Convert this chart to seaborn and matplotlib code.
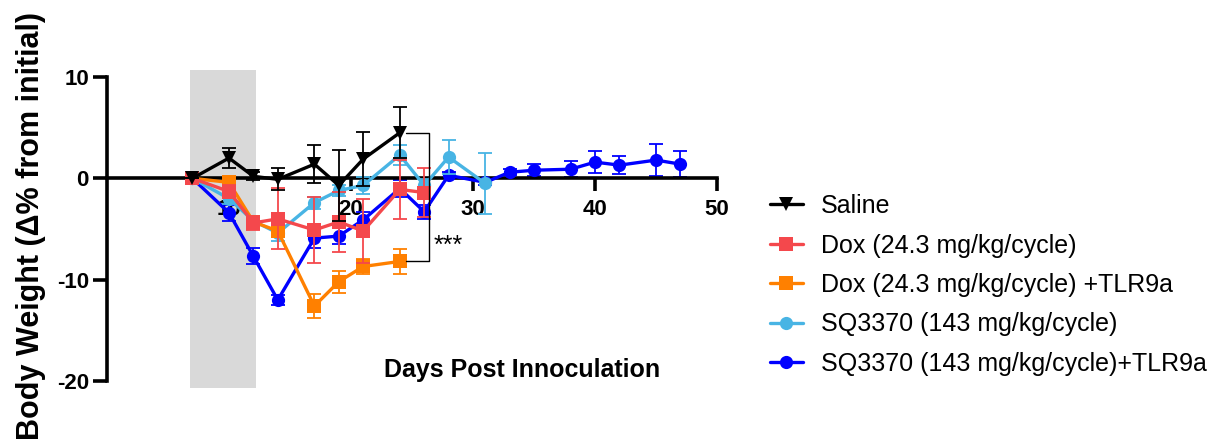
import numpy as np
import pandas as pd
import seaborn as sns
import matplotlib.pyplot as plt
from matplotlib.patches import Rectangle

sns.set_style("ticks")
plt.rcParams['font.family'] = ['Liberation Sans', 'DejaVu Sans']
plt.rcParams['axes.unicode_minus'] = False
for key in ["text.color", "axes.labelcolor", "xtick.color", "ytick.color", "axes.edgecolor"]:
    plt.rcParams[key] = "black"

# group names (legend order)
groups = ["Saline",
          "Dox (24.3 mg/kg/cycle)",
          "Dox (24.3 mg/kg/cycle) +TLR9a",
          "SQ3370 (143 mg/kg/cycle)",
          "SQ3370 (143 mg/kg/cycle)+TLR9a"]

saline_days = [7, 10, 12, 14, 17, 19, 21, 24]
saline_mean = [0, 2.0, 0.2, -0.1, 1.4, -0.7, 1.9, 4.5]
saline_err = [0, 1.0, 0.4, 1.1, 1.9, 3.5, 2.7, 2.5]

dox_days = [7, 10, 12, 14, 17, 19, 21, 24, 26]
dox_mean = [0, -1.3, -4.4, -4.0, -5.1, -4.3, -5.2, -1.1, -1.4]
dox_err = [0, 0.6, 0.7, 3.0, 3.3, 3.0, 3.2, 2.9, 2.4]

doxtlr_days = [7, 10, 12, 14, 17, 19, 21, 24]
doxtlr_mean = [0, -0.4, -4.3, -5.2, -12.6, -10.2, -8.7, -8.2]
doxtlr_err = [0, 0.4, 0.6, 0.5, 1.2, 1.1, 0.7, 1.2]

sq_days = [7, 10, 12, 14, 17, 19, 21, 24, 26, 28, 31]
sq_mean = [0, -2.0, -4.2, -5.4, -2.4, -1.2, -0.7, 2.3, -0.7, 2.1, -0.5]
sq_err = [0, 0.5, 0.5, 0.8, 0.6, 0.5, 0.8, 1.0, 0.6, 1.7, 3.0]

sqtlr_days = [7, 10, 12, 14, 17, 19, 21, 24, 26, 28, 31, 33, 35, 38, 40, 42, 45, 47]
sqtlr_mean = [0, -3.4, -7.7, -12.0, -5.9, -5.7, -4.1, -1.0, -3.3, 0.3, -0.4, 0.6,
              0.8, 0.9, 1.6, 1.3, 1.8, 1.4]
sqtlr_err = [0, 0.8, 0.8, 0.5, 1.0, 0.8, 0.8, 0.8, 0.7, 0.3, 0.3, 0.3, 0.6, 0.8,
             1.1, 0.9, 1.6, 1.3]

colors = ["#000000", "#F4484C", "#FF8000", "#48B4E4", "#0000FF"]
markers = ["v", "s", "s", "o", "o"]

all_days = [saline_days, dox_days, doxtlr_days, sq_days, sqtlr_days]
all_mean = [saline_mean, dox_mean, doxtlr_mean, sq_mean, sqtlr_mean]
all_err = [saline_err, dox_err, doxtlr_err, sq_err, sqtlr_err]

frames = []
for g, d, m, e in zip(groups, all_days, all_mean, all_err):
    frames.append(pd.DataFrame({"day": d, "weight": m, "err": e, "group": g}))
df = pd.concat(frames, ignore_index=True)

fig = plt.figure(figsize=(12.15, 4.48), dpi=100)
ax = fig.add_axes([107 / 1215, 1 - 381 / 448, 610 / 1215, 304 / 448])

# dosing window
ax.add_patch(Rectangle((6.8, -20.7), 5.4, 31.4, color="#D9D9D9", lw=0,
                       clip_on=False, zorder=0))

pal = dict(zip(groups, colors))
mk = dict(zip(groups, markers))
sns.lineplot(data=df, x="day", y="weight", hue="group", style="group",
             hue_order=groups, style_order=groups, palette=pal, markers=mk,
             dashes=False, errorbar=None, lw=2.4, markersize=9.5,
             markeredgewidth=0, ax=ax, legend=True)

zs = [7, 6, 5, 4, 3]
for line, z in zip(ax.get_lines(), zs):
    line.set_zorder(z)

for i, g in enumerate(groups):
    sub = df[df["group"] == g]
    ax.errorbar(sub["day"], sub["weight"], yerr=sub["err"], fmt="none",
                ecolor=colors[i], elinewidth=1.3, capsize=5, capthick=1.3,
                zorder=zs[i] - 0.5)

# significance bracket
ax.plot([24.5, 26.4, 26.4, 24.5], [4.5, 4.5, -8.2, -8.2], color="black",
        lw=1.0, zorder=8)
ax.text(26.8, -6.7, "***", fontsize=18, va="center", ha="left")

ax.set_xlim(0, 50)
ax.set_ylim(-20, 10)
ax.set_xticks([10, 20, 30, 40, 50])
ax.set_yticks([-20, -10, 0, 10])
ax.spines["top"].set_visible(False)
ax.spines["right"].set_visible(False)
ax.spines["bottom"].set_position(("data", 0))
ax.spines["left"].set_linewidth(2.6)
ax.spines["bottom"].set_linewidth(2.6)
ax.spines["bottom"].set_zorder(2.5)
ax.tick_params(axis="both", width=2.6, labelsize=16)
ax.tick_params(axis="x", length=9, pad=6)
ax.tick_params(axis="y", length=10, pad=3)
for t in ax.get_xticklabels() + ax.get_yticklabels():
    t.set_fontweight("bold")

ax.set_xlabel("")
ax.set_ylabel("Body Weight (Δ% from initial)", fontsize=22, fontweight="bold")
ax.yaxis.set_label_coords(-0.10, 0.51)
ax.text(0.68, 0.036, "Days Post Innoculation", transform=ax.transAxes,
        fontsize=18, fontweight="bold", ha="center", va="center")

leg = ax.get_legend()
handles = leg.legend_handles
labels = [t.get_text() for t in leg.texts]
leg.remove()
ax.legend(handles, labels, loc="upper left", bbox_to_anchor=(770 / 1215, 1 - 194 / 448),
          bbox_transform=fig.transFigure, frameon=False, fontsize=18,
          handlelength=1.3, handletextpad=0.75, labelspacing=0.62, borderpad=0,
          borderaxespad=0)

fig.savefig("out.png", dpi=100)
